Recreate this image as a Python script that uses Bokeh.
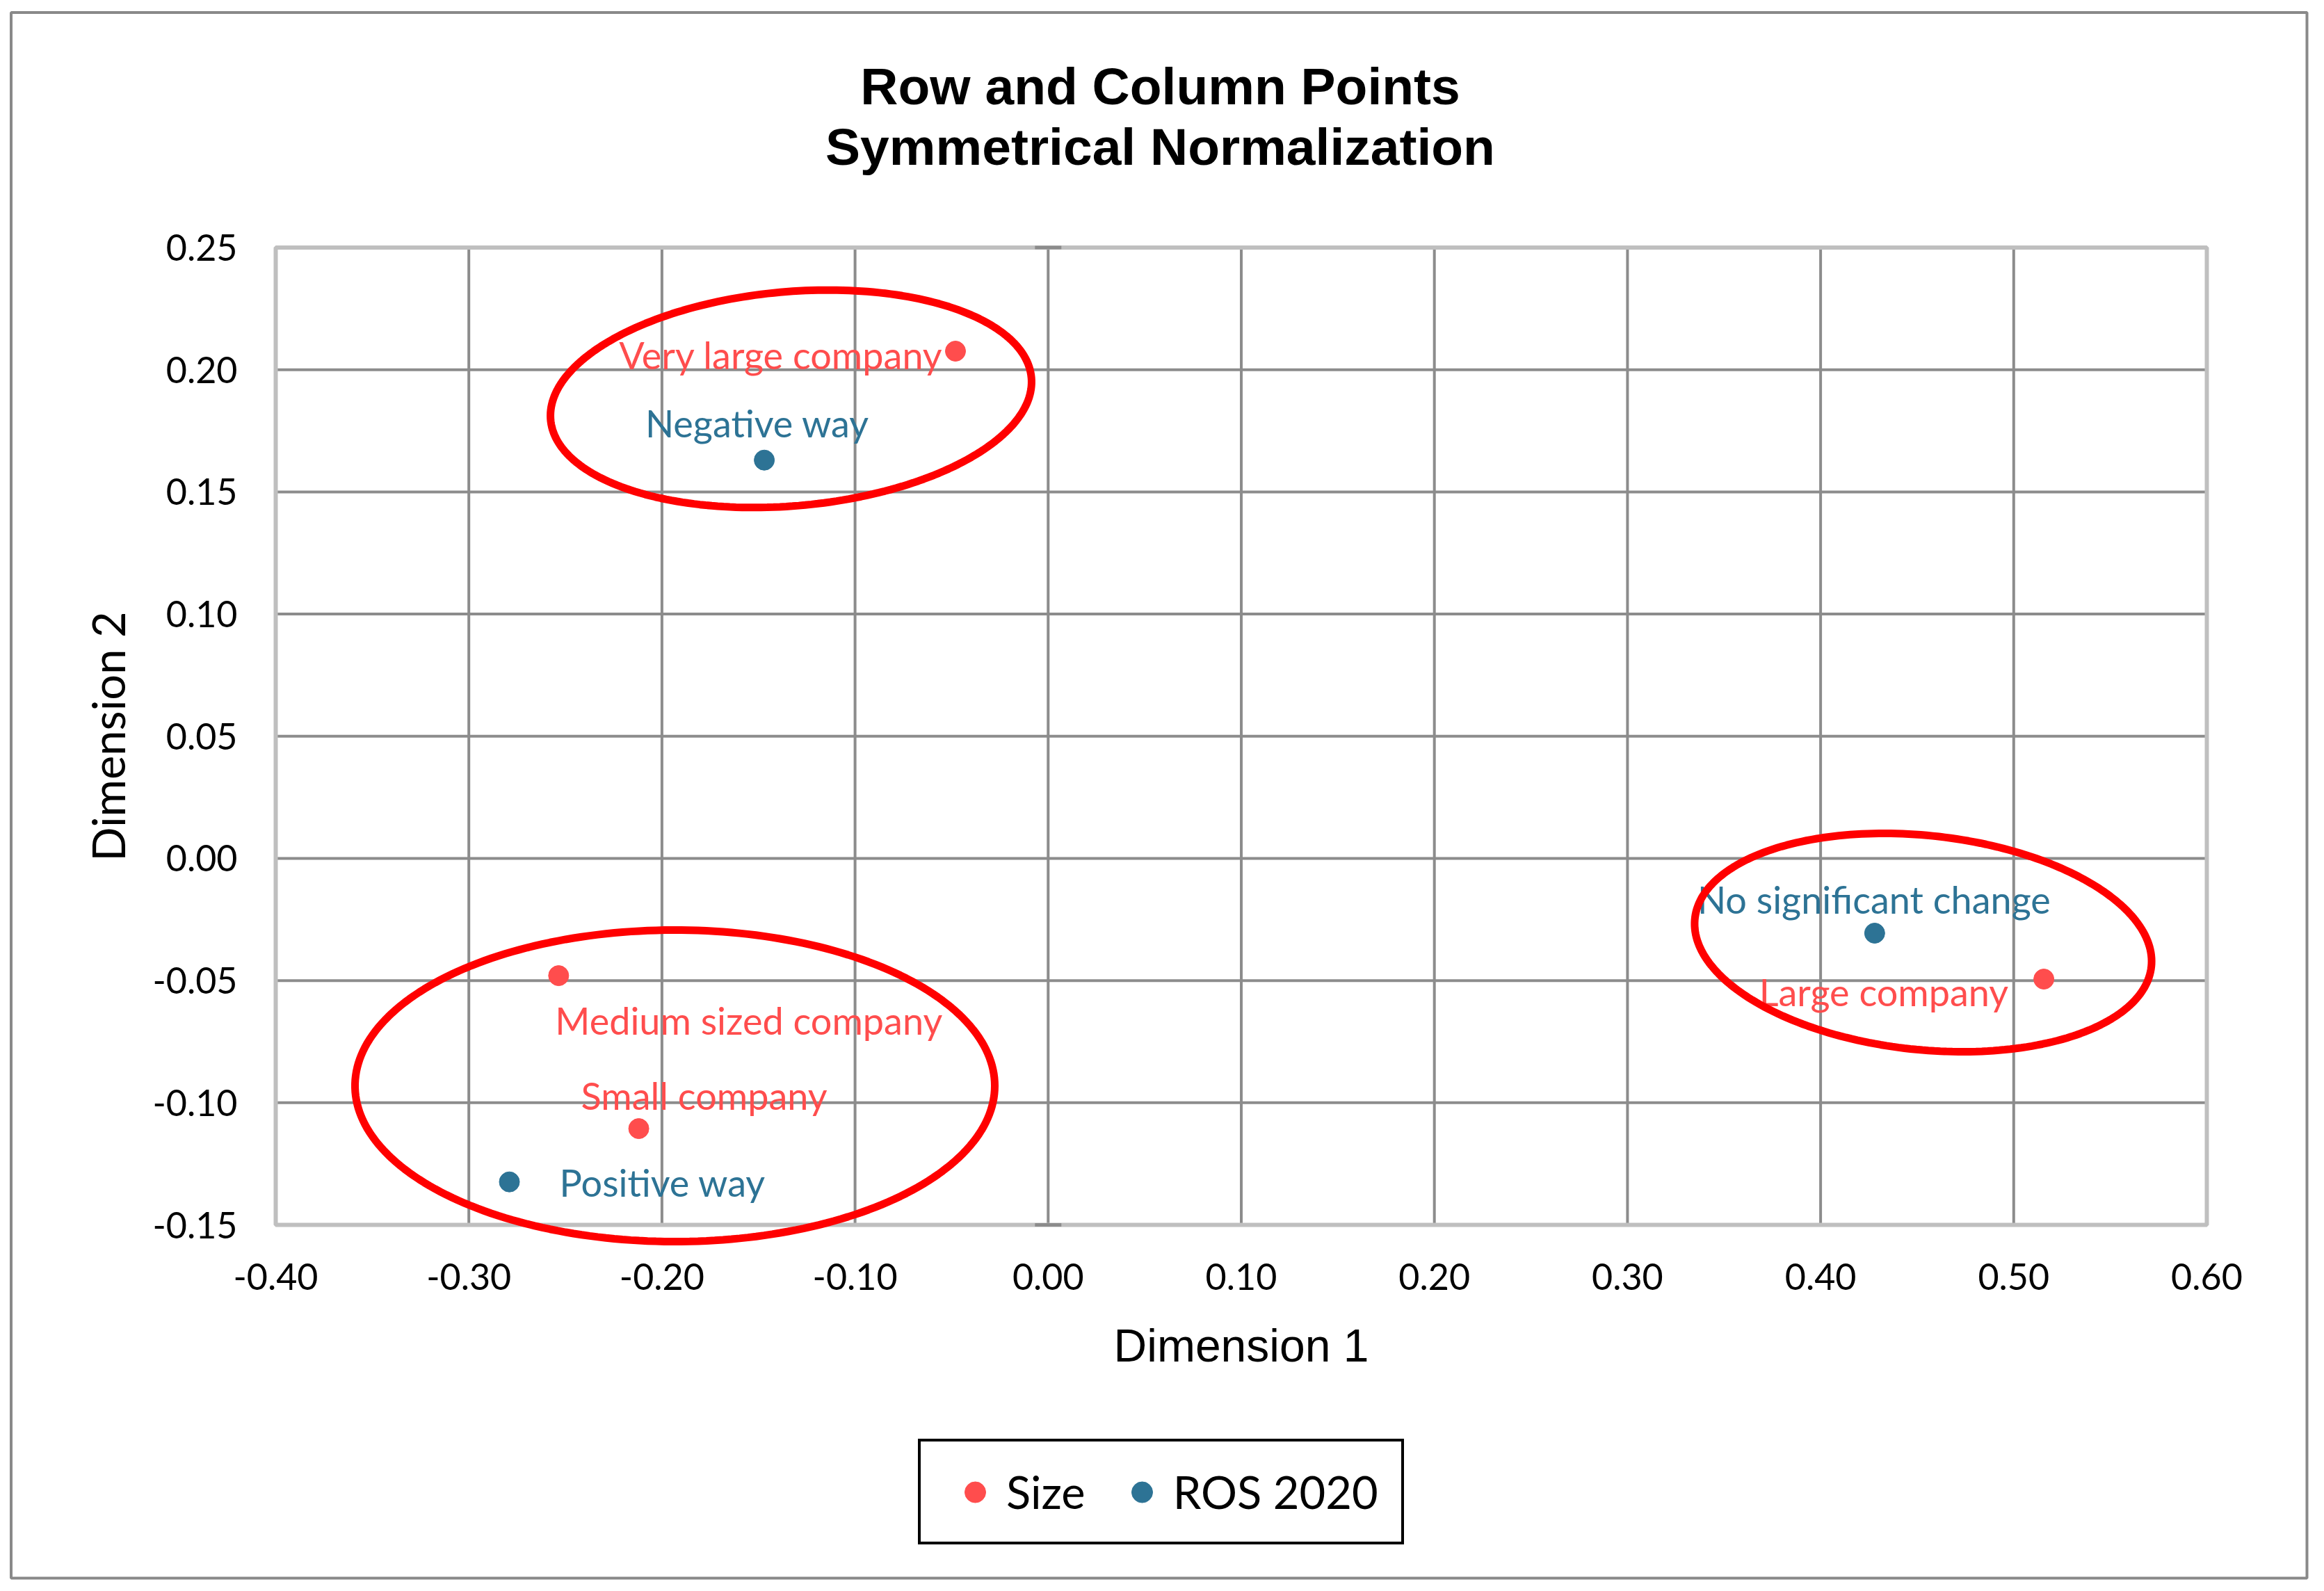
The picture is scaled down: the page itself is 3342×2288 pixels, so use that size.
import numpy as np
from bokeh.plotting import figure
from bokeh.models import (ColumnDataSource, Range1d, FixedTicker, Label, Legend,
                          LegendItem, PolyAnnotation, NumeralTickFormatter)
from bokeh.core.properties import value
from bokeh.embed import file_html
from bokeh.resources import INLINE

# ---------------- data ----------------
title_lines = ["Row and Column Points", "Symmetrical Normalization"]
x_title = "Dimension 1"
y_title = "Dimension 2"
series_names = ["Size", "ROS 2020"]

size_labels = ["Very large company", "Medium sized company", "Small company", "Large company"]
size_dim1 = [-0.048, -0.2535, -0.212, 0.5156]
size_dim2 = [0.2076, -0.048, -0.1106, -0.0494]

ros_labels = ["Negative way", "Positive way", "No significant change"]
ros_dim1 = [-0.147, -0.279, 0.428]
ros_dim2 = [0.163, -0.1324, -0.0306]

x_ticks = [-0.4, -0.3, -0.2, -0.1, 0.0, 0.1, 0.2, 0.3, 0.4, 0.5, 0.6]
x_tick_labels = ["-0.40", "-0.30", "-0.20", "-0.10", "0.00", "0.10", "0.20",
                 "0.30", "0.40", "0.50", "0.60"]
y_ticks = [-0.15, -0.1, -0.05, 0.0, 0.05, 0.1, 0.15, 0.2, 0.25]
y_tick_labels = ["-0.15", "-0.10", "-0.05", "0.00", "0.05", "0.10", "0.15",
                 "0.20", "0.25"]

# ---------------- styles / layout ----------------
RED = "#FF4D4D"
BLUE = "#2D7395"
GRID = "#8C8C8C"
W, H = 3334, 2280
FL, FR, FT, FB = 396, 3173, 355.5, 1761      # plot-area edges in canvas px
X0, X1 = x_ticks[0], x_ticks[-1]
Y0, Y1 = y_ticks[0], y_ticks[-1]
PX_X = (FR - FL) / (X1 - X0)
PX_Y = (FB - FT) / (Y1 - Y0)

def data_x(px):
    return X0 + (px - FL) / PX_X

def data_y(py):
    return Y1 - (py - FT) / PX_Y

# label placement (screen px offsets from the point; y positive = down)
size_lab_dx = [-18, -5, -83, -51]
size_lab_dy = [6, 64, -48, 18]
size_lab_align = ["right", "left", "left", "right"]
ros_lab_dx = [-10, 72, -1]
ros_lab_dy = [-53, 1, -48]
ros_lab_align = ["center", "left", "center"]

# highlight ellipses: centre (canvas px), semi axes (px), angle (deg)
highlight_ellipses = [
    (1137, 573, 347, 154, 5),
    (970, 1561, 460, 224, 0),
    (2765, 1355, 330, 154, -6),
]

p = figure(width=W, height=H, output_backend="svg", toolbar_location=None,
           x_range=Range1d(data_x(0), data_x(W)), y_range=Range1d(data_y(H), data_y(0)),
           min_border_left=0, min_border_right=0, min_border_top=0, min_border_bottom=0,
           background_fill_color="white", border_fill_color="white")
p.outline_line_color = None
p.xgrid.visible = False
p.ygrid.visible = False

# grid lines (interior ticks)
p.segment(x0=x_ticks[1:-1], x1=x_ticks[1:-1], y0=[Y0] * (len(x_ticks) - 2),
          y1=[Y1] * (len(x_ticks) - 2), line_color=GRID, line_width=4)
p.segment(x0=[X0] * (len(y_ticks) - 2), x1=[X1] * (len(y_ticks) - 2),
          y0=y_ticks[1:-1], y1=y_ticks[1:-1], line_color=GRID, line_width=4)
# plot-area frame
p.quad(left=[X0], right=[X1], top=[Y1], bottom=[Y0], fill_color=None,
       line_color="#BFBFBF", line_width=6)

# axes fixed on the plot-area edges
p.xaxis.fixed_location = Y0
p.yaxis.fixed_location = X0
p.xaxis.bounds = (X0, X1)
p.yaxis.bounds = (Y0, Y1)
p.xaxis.ticker = FixedTicker(ticks=x_ticks)
p.yaxis.ticker = FixedTicker(ticks=y_ticks)
p.xaxis.formatter = NumeralTickFormatter(format="0.00")
p.yaxis.formatter = NumeralTickFormatter(format="0.00")
p.xaxis.major_label_overrides = dict(zip(x_ticks, x_tick_labels))
p.yaxis.major_label_overrides = dict(zip(y_ticks, y_tick_labels))
for ax in (p.xaxis, p.yaxis):
    ax.axis_line_color = None
    ax.major_tick_line_color = None
    ax.minor_tick_line_color = None
    ax.major_tick_out = 0
    ax.major_tick_in = 0
    ax.major_label_text_font = "Lato"
    ax.major_label_text_font_size = "52px"
    ax.major_label_text_color = "black"
    ax.axis_label_text_font_style = "normal"
    ax.axis_label_text_color = "black"
p.xaxis.major_label_standoff = 55
p.yaxis.major_label_standoff = 55
p.xaxis.axis_label = x_title
p.xaxis.axis_label_text_font = "Liberation Sans"
p.xaxis.axis_label_text_font_size = "66px"
p.xaxis.axis_label_standoff = 40
p.yaxis.axis_label = y_title
p.yaxis.axis_label_text_font = "Lato"
p.yaxis.axis_label_text_font_size = "65px"
p.yaxis.axis_label_standoff = 22

# points
src_size = ColumnDataSource(dict(x=size_dim1, y=size_dim2, label=size_labels,
                                 dx=size_lab_dx, dy=size_lab_dy, align=size_lab_align))
src_ros = ColumnDataSource(dict(x=ros_dim1, y=ros_dim2, label=ros_labels,
                                dx=ros_lab_dx, dy=ros_lab_dy, align=ros_lab_align))

r_size = p.scatter("x", "y", source=src_size, size=29, marker="circle",
                   fill_color=RED, line_color=RED)
r_ros = p.scatter("x", "y", source=src_ros, size=29, marker="circle",
                  fill_color=BLUE, line_color=BLUE)

for src, col in ((src_size, RED), (src_ros, BLUE)):
    p.text("x", "y", text="label", source=src, x_offset="dx", y_offset="dy",
           text_align="align", text_baseline="alphabetic",
           text_font=value("Lato"), text_font_size=value("54px"), text_color=col)

# title
for line, base in zip(title_lines, (123, 210)):
    p.add_layout(Label(x=data_x(1668), y=data_y(base), x_units="data", y_units="data",
                       text=line, text_align="center", text_baseline="alphabetic",
                       text_font="Liberation Sans", text_font_style="bold",
                       text_font_size="75px", text_color="black"))

# highlight ellipses
t = np.linspace(0, 2 * np.pi, 240)
for (cxp, cyp, a, b, ang) in highlight_ellipses:
    th = np.deg2rad(ang)
    dx = a * np.cos(t) * np.cos(th) - b * np.sin(t) * np.sin(th)
    dy = a * np.cos(t) * np.sin(th) + b * np.sin(t) * np.cos(th)
    xs = [data_x(cxp + v) for v in dx]
    ys = [data_y(cyp - v) for v in dy]
    p.add_layout(PolyAnnotation(xs=xs, ys=ys, xs_units="data", ys_units="data",
                                line_color="#FF0000", line_width=11, line_alpha=1,
                                fill_color=None, fill_alpha=0))

# small axis marks at x = 0 on the plot-area top / bottom
x0px = FL + (0 - X0) * PX_X
for ey in (FT, FB):
    xs = [data_x(x0px - 19), data_x(x0px + 19), data_x(x0px + 19), data_x(x0px - 19)]
    ys = [data_y(ey - 2.5), data_y(ey - 2.5), data_y(ey + 2.5), data_y(ey + 2.5)]
    p.add_layout(PolyAnnotation(xs=xs, ys=ys, line_color=None, line_alpha=0,
                                fill_color=GRID, fill_alpha=1))

# outer chart border
bx = [data_x(15.5), data_x(3317), data_x(3317), data_x(15.5)]
by = [data_y(17.5), data_y(17.5), data_y(2269), data_y(2269)]
p.add_layout(PolyAnnotation(xs=bx, ys=by, line_color="#898989", line_width=4,
                            line_alpha=1, fill_color=None, fill_alpha=0))

# legend
legend = Legend(items=[LegendItem(label=series_names[0], renderers=[r_size]),
                       LegendItem(label=series_names[1], renderers=[r_ros])],
                location=(1320, H - 2221), orientation="horizontal",
                border_line_color="black", border_line_width=4, border_line_alpha=1,
                background_fill_color="white", background_fill_alpha=1,
                padding=33, spacing=36, glyph_width=90, glyph_height=75,
                label_standoff=0, label_text_font="Lato",
                label_text_font_size="65px", label_text_color="black", margin=0)
p.add_layout(legend)

open("out.html", "w").write(file_html(p, INLINE))
